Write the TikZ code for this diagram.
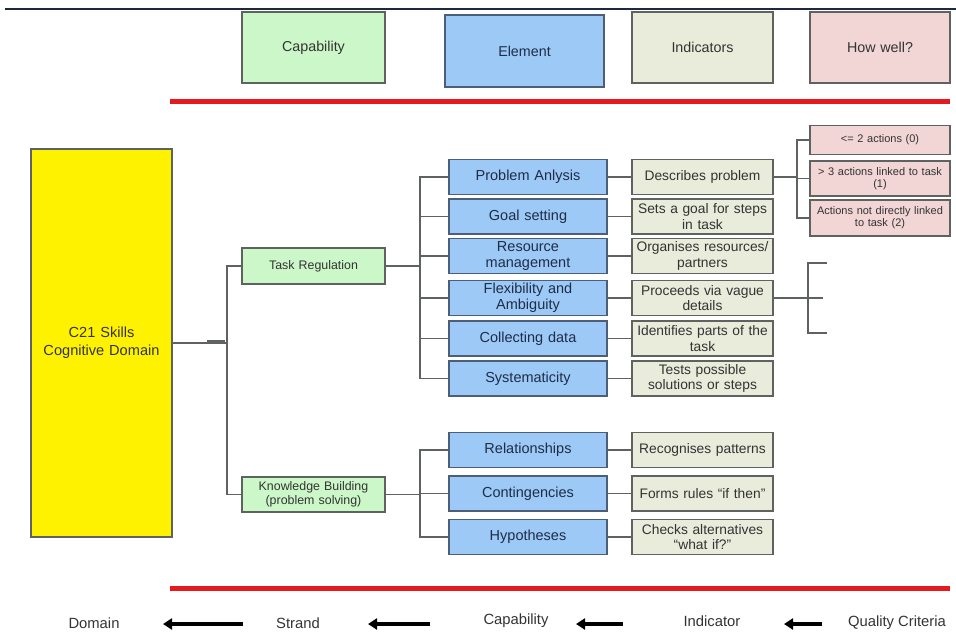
\documentclass[tikz,border=0pt]{standalone}
\usepackage{fontspec}
\setmainfont{Liberation Sans}
\usetikzlibrary{arrows.meta}

\definecolor{capgreen}{HTML}{CCF7C8}
\definecolor{elemblue}{HTML}{9CC9F5}
\definecolor{indbeige}{HTML}{E9EBDB}
\definecolor{wellpink}{HTML}{F2D5D5}
\definecolor{boxline}{HTML}{5F6360}
\definecolor{elemline}{HTML}{4C5F78}
\definecolor{elemtext}{HTML}{1F2D48}
\definecolor{txtgray}{HTML}{333333}
\definecolor{barred}{HTML}{E51A1F}
\definecolor{topnavy}{HTML}{1E2940}

\begin{document}
\begin{tikzpicture}[x=1pt,y=-1pt,
    every node/.style={inner sep=1pt,align=center,text=txtgray,font=\fontsize{12}{13}\selectfont},
    box/.style={draw=boxline,line width=1.2pt,minimum width=#1,text width=#1-4pt},
    capbox/.style={box=143pt,fill=capgreen},
    elembox/.style={box=158pt,fill=elemblue,draw=elemline,text=elemtext,minimum height=35pt,font=\fontsize{14.5}{16}\selectfont},
    indbox/.style={box=141pt,fill=indbeige,minimum height=35pt,font=\fontsize{13.8}{15.5}\selectfont},
    wellbox/.style={box=140pt,fill=wellpink,font=\fontsize{11}{12}\selectfont},
    head/.style={minimum height=71pt,font=\fontsize{14.3}{15}\selectfont},
    link/.style={draw=boxline,line width=1.2pt},
    redbar/.style={barred,line width=5pt},
    bigarrow/.style={line width=3.5pt,-{Triangle[length=9pt,width=11pt]}},
    foot/.style={font=\fontsize{14.8}{16}\selectfont}
  ]
\useasboundingbox (0,0) rectangle (956,633);

% header row
\draw[topnavy,line width=2pt] (5,9) -- (956,9);
\node[capbox,head] (hcap) at (313.5,47.5) {Capability};
\node[box=159pt,fill=elemblue,draw=elemline,text=elemtext,minimum height=72pt,font=\fontsize{14.3}{15}\selectfont] (helem) at (524.5,51) {Element};
\node[box=141pt,fill=indbeige,head] (hind) at (702.5,47.5) {Indicators};
\node[box=140pt,fill=wellpink,head] (hwell) at (880,47.5) {How well?};
\draw[redbar] (170,101) -- (950,101);

% domain and strands
\node[box=141pt,fill=yellow,minimum height=388pt,font=\fontsize{14.6}{18}\selectfont] (c21) at (101.5,343) {C21 Skills\\Cognitive Domain};
\node[capbox,minimum height=36pt,font=\fontsize{12.4}{13}\selectfont] (taskreg) at (313.5,266) {Task Regulation};
\node[capbox,minimum height=35pt,font=\fontsize{12.4}{13.5}\selectfont] (know) at (313.5,494.5) {Knowledge Building\\(problem solving)};
\coordinate (jdom) at (227,343);
\draw[link] (c21.east) -- (jdom);
\draw[link,line width=2pt] (207,341) -- (225,341);
\draw[link] (jdom) |- (taskreg.west);
\draw[link] (jdom) |- (know.west);

% task regulation elements and indicators
\coordinate (jtask) at (420,266);
\draw[link] (taskreg.east) -- (jtask);
\foreach \n/\y/\el/\ind in {
    1/177/{Problem Anlysis}/{Describes problem},
    2/216.5/{Goal setting}/{Sets a goal for steps\\in task},
    3/256/{Resource\\management}/{Organises resources/\\partners},
    4/298/{Flexibility and\\Ambiguity}/{Proceeds via vague\\details},
    5/338.5/{Collecting data}/{Identifies parts of the\\task},
    6/378.5/{Systematicity}/{Tests possible\\solutions or steps}}{
  \node[elembox] (el\n) at (528,\y) {\el};
  \node[indbox] (ind\n) at (702.5,\y) {\ind};
  \draw[link] (jtask) |- (el\n.west);
  \draw[link] (el\n.east) -- (ind\n.west);
}

% knowledge building elements and indicators
\coordinate (jknow) at (420,494.5);
\draw[link] (know.east) -- (jknow);
\foreach \n/\y/\el/\ind in {
    7/450/{Relationships}/{Recognises patterns},
    8/493.5/{Contingencies}/{Forms rules ``if then''},
    9/537/{Hypotheses}/{Checks alternatives\\``what if?''}}{
  \node[elembox] (el\n) at (528,\y) {\el};
  \node[indbox] (ind\n) at (702.5,\y) {\ind};
  \draw[link] (jknow) |- (el\n.west);
  \draw[link] (el\n.east) -- (ind\n.west);
}

% quality criteria
\node[wellbox,minimum height=29pt] (well1) at (880,140) {<= 2 actions (0)};
\node[wellbox,minimum height=35pt] (well2) at (880,178.5) {> 3 actions linked to task\\(1)};
\node[wellbox,minimum height=36pt] (well3) at (880,218) {Actions not directly linked\\to task (2)};
\coordinate (jwell) at (797,177);
\draw[link] (ind1.east) -- (jwell);
\foreach \n in {1,2,3}
  \draw[link] (jwell) |- (well\n.west);

\coordinate (jflex) at (808,298);
\coordinate (tick1) at (827,263);
\coordinate (tick2) at (823,298);
\coordinate (tick3) at (827,333);
\draw[link] (ind4.east) -- (jflex);
\foreach \n in {1,2,3}
  \draw[link] (jflex) |- (tick\n);

% footer
\draw[redbar] (170,588) -- (950,588);
\node[foot] (fdom) at (94,623) {Domain};
\node[foot] (fstrand) at (298,623) {Strand};
\node[foot] (fcap) at (516,621) {Capability};
\node[foot] (find) at (712,621) {Indicator};
\node[foot] (fqual) at (897,623) {Quality Criteria};
\coordinate (a1) at (243,624); \coordinate (b1) at (163,624);
\coordinate (a2) at (430,624); \coordinate (b2) at (368,624);
\coordinate (a3) at (623,624); \coordinate (b3) at (576,624);
\coordinate (a4) at (822,624); \coordinate (b4) at (784,624);
\foreach \n in {1,2,3,4}
  \draw[bigarrow] (a\n) -- (b\n);
\end{tikzpicture}
\end{document}
